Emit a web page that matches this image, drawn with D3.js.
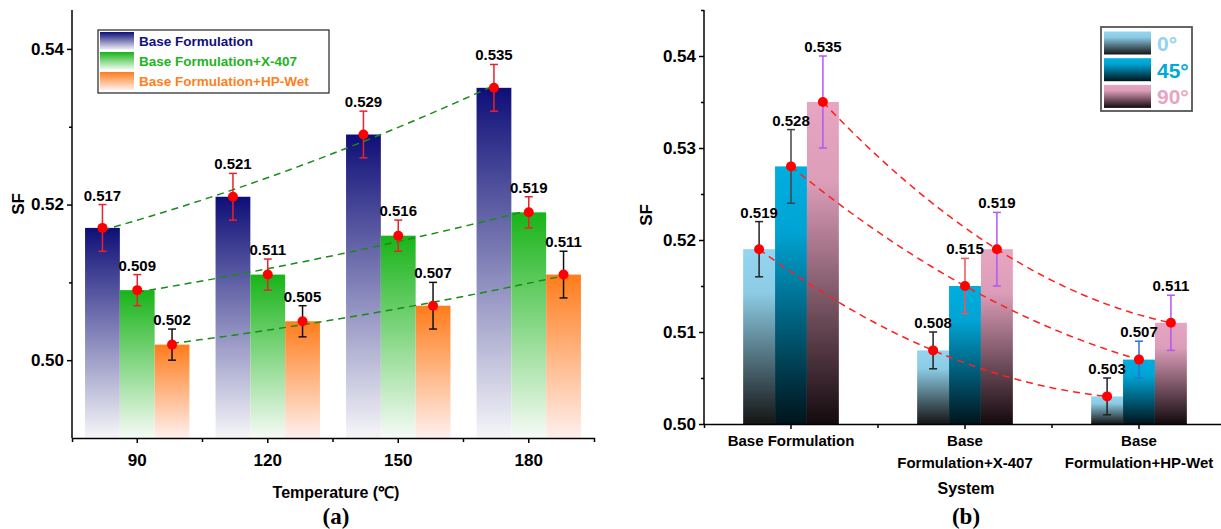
<!DOCTYPE html>
<html>
<head>
<meta charset="utf-8">
<script src="https://cdn.jsdelivr.net/npm/d3@7"></script>
<style>
  body { margin: 0; background: #fff; }
  svg { font-family: "Liberation Sans", Arial, sans-serif; font-weight: bold; }
  .axis path, .axis line { stroke: #000; stroke-width: 1.5; }
  .axis text { font-weight: bold; fill: #000; }
</style>
</head>
<body>
<script>
// ---- panel (a) data ----
var temps = ["90", "120", "150", "180"];
var seriesA = ["Base Formulation", "Base Formulation+X-407", "Base Formulation+HP-Wet"];
var baseSF   = [0.517, 0.521, 0.529, 0.535];
var baseErr  = [0.003, 0.003, 0.003, 0.003];
var x407SF   = [0.509, 0.511, 0.516, 0.519];
var x407Err  = [0.002, 0.002, 0.002, 0.002];
var hpwetSF  = [0.502, 0.505, 0.507, 0.511];
var hpwetErr = [0.002, 0.002, 0.003, 0.003];
var yTicksA  = [0.50, 0.52, 0.54];
var yMinorA  = [0.51, 0.53];

// ---- panel (b) data ----
var systems = ["Base Formulation", "Base\nFormulation+X-407", "Base\nFormulation+HP-Wet"];
var angles  = ["0°", "45°", "90°"];
var sf0    = [0.519, 0.508, 0.503];
var err0   = [0.003, 0.002, 0.002];
var sf45   = [0.528, 0.515, 0.507];
var err45  = [0.004, 0.003, 0.002];
var sf90   = [0.535, 0.519, 0.511];
var err90  = [0.005, 0.004, 0.003];
var errCol0  = ["#222", "#222", "#222"];
var errCol45 = ["#444", "#f05555", "#2a70d8"];
var errCol90 = ["#b455f5", "#b455f5", "#b455f5"];
var yTicksB  = [0.50, 0.51, 0.52, 0.53, 0.54];
var yMinorB  = [0.505, 0.515, 0.525, 0.535, 0.545];

var svg = d3.select("body").append("svg")
    .attr("width", 1221)
    .attr("height", 529);

var defs = svg.append("defs");
function grad(id, stops) {
  var g = defs.append("linearGradient").attr("id", id)
      .attr("x1", 0).attr("y1", 0).attr("x2", 0).attr("y2", 1);
  stops.forEach(function(s) {
    g.append("stop").attr("offset", s[0]).attr("stop-color", s[1]);
  });
}
grad("gBlue",   [[0, "#0e0e78"], [1, "#f6f6f9"]]);
grad("gGreen",  [[0, "#18b418"], [1, "#f6fbf6"]]);
grad("gOrange", [[0, "#ff7c1a"], [1, "#fff0ee"]]);
grad("g0",  [[0, "#94d5f0"], [0.25, "#8ccbe4"], [1, "#151515"]]);
grad("g45", [[0, "#00aede"], [0.25, "#00a4d4"], [1, "#00141b"]]);
grad("g90", [[0, "#e6a6c2"], [0.25, "#dc9db8"], [1, "#140a0e"]]);

// quadratic least squares, for the dashed trend lines
function quadFit(xs, ys) {
  var n = xs.length, S = [0,0,0,0,0], T = [0,0,0];
  for (var i = 0; i < n; i++) {
    var xp = 1;
    for (var k = 0; k < 5; k++) { S[k] += xp; if (k < 3) T[k] += xp * ys[i]; xp *= xs[i]; }
  }
  var M = [[S[0], S[1], S[2], T[0]], [S[1], S[2], S[3], T[1]], [S[2], S[3], S[4], T[2]]];
  for (var c = 0; c < 3; c++) {
    for (var r = c + 1; r < 3; r++) {
      var f = M[r][c] / M[c][c];
      for (var j = c; j < 4; j++) M[r][j] -= f * M[c][j];
    }
  }
  var a = [0, 0, 0];
  for (var r2 = 2; r2 >= 0; r2--) {
    var s = M[r2][3];
    for (var j2 = r2 + 1; j2 < 3; j2++) s -= M[r2][j2] * a[j2];
    a[r2] = s / M[r2][r2];
  }
  return function(x) { return a[0] + a[1] * x + a[2] * x * x; };
}

function drawPanel(o) {
  var g = svg.append("g");
  var x = d3.scaleBand().domain(o.cats).range(o.xRange).paddingInner(0).paddingOuter(0);
  var y = d3.scaleLinear().domain(o.yDomain).range(o.yRange);
  var nS = o.series.length;
  var bw = x.bandwidth() * o.groupFrac / nS;
  function bx(ci, si) { return x(o.cats[ci]) + (x.bandwidth() - bw * nS) / 2 + si * bw; }

  // bars
  o.series.forEach(function(s, si) {
    g.selectAll(".bar" + si).data(s.vals).enter().append("rect")
      .attr("x", function(d, i) { return bx(i, si); })
      .attr("y", function(d) { return y(d); })
      .attr("width", bw)
      .attr("height", function(d) { return y(o.yDomain[0]) - y(d); })
      .attr("fill", "url(#" + s.grad + ")");
  });

  // dashed trend lines
  o.series.forEach(function(s, si) {
    var xs = s.vals.map(function(d, i) { return bx(i, si) + bw / 2; });
    var ys = s.vals.map(function(d) { return y(d); });
    var f = quadFit(xs, ys);
    var pts = d3.range(0, 41).map(function(k) {
      var xx = xs[0] + (xs[xs.length - 1] - xs[0]) * k / 40;
      return [xx, f(xx)];
    });
    g.append("path").attr("d", d3.line()(pts))
      .attr("fill", "none").attr("stroke", o.trendColor)
      .attr("stroke-width", 1.5).attr("stroke-dasharray", "7,5");
  });

  // error bars, points, labels
  o.series.forEach(function(s, si) {
    s.vals.forEach(function(v, i) {
      var cx = bx(i, si) + bw / 2;
      var col = s.errCol[i];
      var top = y(v + s.err[i]), bot = y(v - s.err[i]);
      g.append("line").attr("x1", cx).attr("x2", cx).attr("y1", top).attr("y2", bot)
        .attr("stroke", col).attr("stroke-width", 1.5);
      [top, bot].forEach(function(yy) {
        g.append("line").attr("x1", cx - 4).attr("x2", cx + 4).attr("y1", yy).attr("y2", yy)
          .attr("stroke", col).attr("stroke-width", 1.5);
      });
      g.append("circle").attr("cx", cx).attr("cy", y(v)).attr("r", 5).attr("fill", "#ff0000");
      g.append("text").attr("x", cx).attr("y", top - 4)
        .attr("text-anchor", "middle").attr("font-size", 15).text(d3.format(".3f")(v));
    });
  });

  // y axis
  var ya = g.append("g").attr("class", "axis")
    .attr("transform", "translate(" + o.xRange[0] + ",0)")
    .call(d3.axisLeft(y).tickValues(o.yTicks).tickSize(5).tickSizeOuter(0)
      .tickFormat(d3.format(".2f")));
  ya.select(".domain").attr("d", "M0," + o.yRange[0] + "V" + o.yRange[1]);
  ya.selectAll("text").attr("font-size", 17).attr("x", -8);
  g.append("g").attr("class", "axis")
    .attr("transform", "translate(" + o.xRange[0] + ",0)")
    .call(d3.axisLeft(y).tickValues(o.yMinor).tickSize(3).tickFormat(""))
    .select(".domain").remove();

  // x axis
  var xa = g.append("g").attr("class", "axis")
    .attr("transform", "translate(0," + o.yRange[0] + ")")
    .call(d3.axisBottom(x).tickSize(5).tickSizeOuter(4));
  xa.selectAll("text").remove();
  xa.selectAll(".tick").each(function(d) {
    var lines = d.split("\n");
    var t = d3.select(this).append("text").attr("font-size", o.xFont)
      .attr("text-anchor", "middle").attr("fill", "#000");
    lines.forEach(function(l, li) {
      t.append("tspan").attr("x", 0).attr("y", o.xLabelY + li * 22).text(l);
    });
  });
  var bounds = o.cats.slice(1).map(function(c) { return x(c); });
  g.selectAll(".minorx").data(bounds).enter().append("line")
    .attr("x1", function(d) { return d; }).attr("x2", function(d) { return d; })
    .attr("y1", o.yRange[0]).attr("y2", o.yRange[0] + 4)
    .attr("stroke", "#000").attr("stroke-width", 1.5);

  // axis titles
  g.append("text").attr("transform", "translate(" + o.sfX + "," + o.sfY + ") rotate(-90)")
    .attr("text-anchor", "middle").attr("font-size", 17).text("SF");
  g.append("text").attr("x", o.titleX).attr("y", o.titleY)
    .attr("text-anchor", "middle").attr("font-size", 16).text(o.title);
  g.append("text").attr("x", o.titleX).attr("y", 524)
    .attr("text-anchor", "middle").attr("font-size", 23)
    .attr("font-family", "'Liberation Serif', 'Times New Roman', serif")
    .text(o.letter);
  return g;
}

drawPanel({
  cats: temps, xRange: [72, 594], yDomain: [0.49, 0.545], yRange: [438, 10],
  groupFrac: 0.8, yTicks: yTicksA, yMinor: yMinorA, trendColor: "#1a8a1a",
  xFont: 17, xLabelY: 28, sfX: 24, sfY: 204, title: "Temperature (℃)",
  titleX: 336, titleY: 498, letter: "(a)",
  series: [
    { vals: baseSF,  err: baseErr,  grad: "gBlue",   errCol: ["#e8232b","#e8232b","#e8232b","#e8232b"] },
    { vals: x407SF,  err: x407Err,  grad: "gGreen",  errCol: ["#e8232b","#e8232b","#e8232b","#e8232b"] },
    { vals: hpwetSF, err: hpwetErr, grad: "gOrange", errCol: ["#111","#111","#111","#111"] }
  ]
});

drawPanel({
  cats: systems, xRange: [704, 1226], yDomain: [0.50, 0.545], yRange: [424, 10],
  groupFrac: 0.55, yTicks: yTicksB, yMinor: yMinorB, trendColor: "#ff2020",
  xFont: 15, xLabelY: 22, sfX: 652, sfY: 215, title: "System",
  titleX: 966, titleY: 494, letter: "(b)",
  series: [
    { vals: sf0,  err: err0,  grad: "g0",  errCol: errCol0 },
    { vals: sf45, err: err45, grad: "g45", errCol: errCol45 },
    { vals: sf90, err: err90, grad: "g90", errCol: errCol90 }
  ]
});

// legend (a)
var legA = svg.append("g").attr("transform", "translate(98,30)");
legA.append("rect").attr("width", 231).attr("height", 63)
  .attr("fill", "#fff").attr("stroke", "#222").attr("stroke-width", 1.2);
var colA = ["#10107c", "#1db41d", "#ff7f1e"];
var gradA = ["gBlue", "gGreen", "gOrange"];
seriesA.forEach(function(s, i) {
  legA.append("rect").attr("x", 2).attr("y", 2 + i * 20).attr("width", 34).attr("height", 18)
    .attr("fill", "url(#" + gradA[i] + ")");
  legA.append("text").attr("x", 41).attr("y", 16 + i * 20).attr("font-size", 13.5)
    .attr("fill", colA[i]).text(s);
});

// legend (b)
var legB = svg.append("g").attr("transform", "translate(1101,27)");
legB.append("rect").attr("width", 91).attr("height", 84)
  .attr("fill", "#fff").attr("stroke", "#555").attr("stroke-width", 1.8);
var colB = ["#92d3ef", "#00a9dd", "#e8a5c2"];
var gradB = ["g0", "g45", "g90"];
angles.forEach(function(a, i) {
  legB.append("rect").attr("x", 3).attr("y", 4.5 + i * 26.7).attr("width", 47).attr("height", 23)
    .attr("fill", "url(#" + gradB[i] + ")");
  legB.append("text").attr("x", 56).attr("y", 24 + i * 26.7).attr("font-size", 21)
    .attr("fill", colB[i]).text(a);
});
</script>
</body>
</html>
